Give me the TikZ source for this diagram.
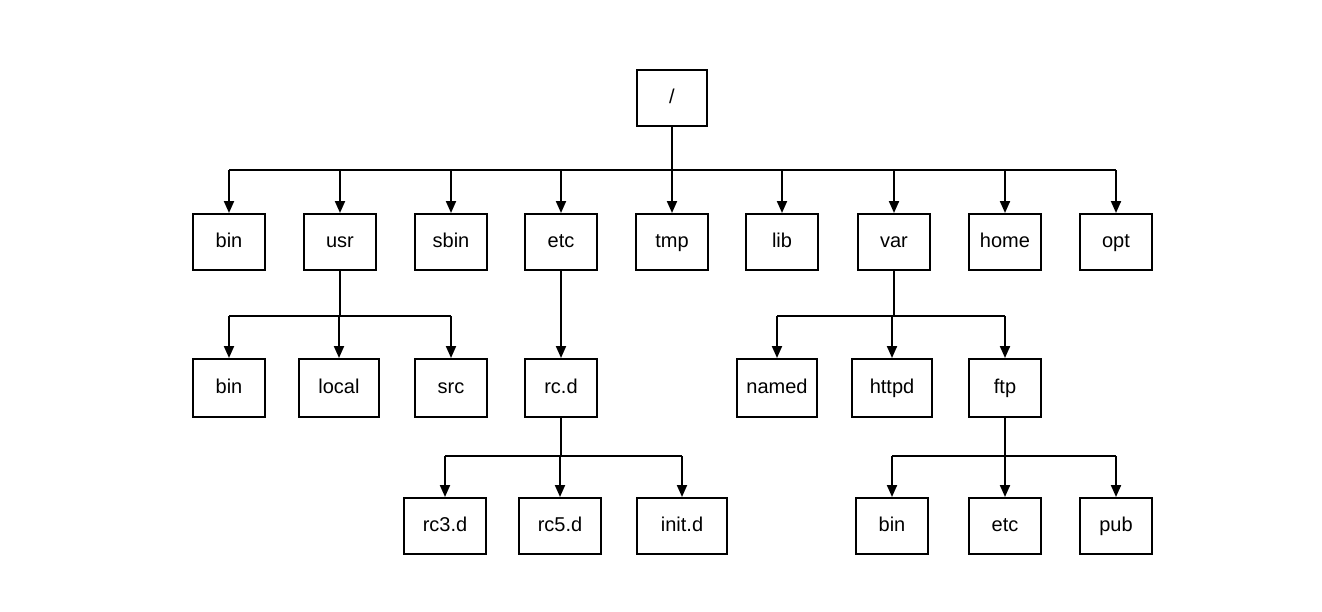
\documentclass[tikz,border=0pt]{standalone}
\usepackage{fontspec}
\setmainfont{Liberation Sans}
\usetikzlibrary{arrows.meta}
\usetikzlibrary{calc}

\begin{document}
\begin{tikzpicture}[x=1pt, y=-1pt,
  dir/.style={draw, line width=2pt, minimum height=56pt, inner sep=0pt, text height=15pt, text depth=4pt, font=\fontsize{20}{24}\selectfont},
  link/.style={line width=2pt},
  arr/.style={line width=2pt, -{Triangle[width=10pt,length=12pt]}}]

 \useasboundingbox (0,0) rectangle (1322,611);

 %root
 \node[dir, minimum width=70pt] (root) at (672,98) {/};

 %level 1
 \foreach \name/\x/\lbl in {bin/229/bin, usr/340/usr, sbin/451/sbin, etc/561/etc, tmp/672/tmp,
                            lib/782/lib, var/894/var, home/1005/home, opt/1116/opt} {
         \node[dir, minimum width=72pt] (\name) at (\x,242) {\lbl};
 }

 %level 2
 \foreach \name/\x/\w/\lbl in {ubin/229/72/bin, local/339/80/local, src/451/72/src, rcd/561/72/rc.d,
                               named/777/80/named, httpd/892/80/httpd, ftp/1005/72/ftp} {
         \node[dir, minimum width=\w pt, minimum height=58pt] (\name) at (\x,388) {\lbl};
 }

 %level 3
 \foreach \name/\x/\w/\lbl in {rcthree/445/82/rc3.d, rcfive/560/82/rc5.d, initd/682/90/init.d,
                               fbin/892/72/bin, fetc/1005/72/etc, pub/1116/72/pub} {
         \node[dir, minimum width=\w pt] (\name) at (\x,526) {\lbl};
 }

 %arrows from /
 \coordinate (rbus) at (672,170);
 \draw[link] (root.south) -- (rbus);
 \draw[link] (bin.north |- rbus) -- (opt.north |- rbus);
 \foreach \name in {bin,usr,sbin,etc,tmp,lib,var,home,opt} {
         \draw[arr] (\name.north |- rbus) -- (\name.north);
 }

 %arrows from usr
 \coordinate (ubus) at (340,316);
 \draw[link] (usr.south) -- (ubus);
 \draw[link] (ubin.north |- ubus) -- (src.north |- ubus);
 \foreach \name in {ubin,local,src} {
         \draw[arr] (\name.north |- ubus) -- (\name.north);
 }

 %arrow from etc
 \draw[arr] (etc.south) -- (rcd.north);

 %arrows from var
 \coordinate (vbus) at (894,316);
 \draw[link] (var.south) -- (vbus);
 \draw[link] (named.north |- vbus) -- (ftp.north |- vbus);
 \foreach \name in {named,httpd,ftp} {
         \draw[arr] (\name.north |- vbus) -- (\name.north);
 }

 %arrows from rc.d
 \coordinate (rbus3) at (561,456);
 \draw[link] (rcd.south) -- (rbus3);
 \draw[link] (rcthree.north |- rbus3) -- (initd.north |- rbus3);
 \foreach \name in {rcthree,rcfive,initd} {
         \draw[arr] (\name.north |- rbus3) -- (\name.north);
 }

 %arrows from ftp
 \coordinate (fbus) at (1005,456);
 \draw[link] (ftp.south) -- (fbus);
 \draw[link] (fbin.north |- fbus) -- (pub.north |- fbus);
 \foreach \name in {fbin,fetc,pub} {
         \draw[arr] (\name.north |- fbus) -- (\name.north);
 }

\end{tikzpicture}
\end{document}
